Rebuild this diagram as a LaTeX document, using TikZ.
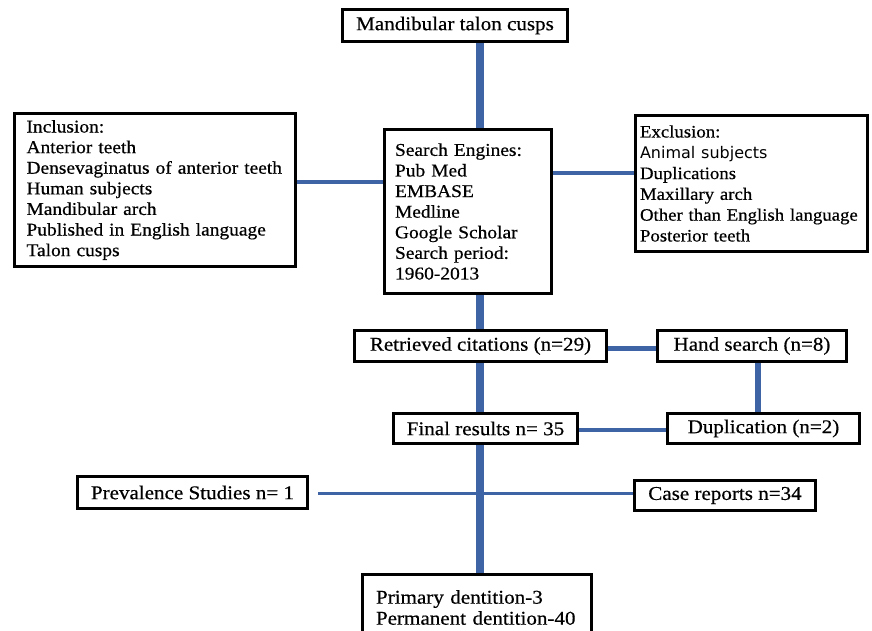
\documentclass[tikz,border=0pt]{standalone}
\usepackage{fontspec}
\setmainfont{Liberation Serif}[FakeStretch=1.08,FakeBold=0.5]
\newfontfamily\sansfnt{DejaVu Sans}
\definecolor{linkblue}{RGB}{62,100,165}
\begin{document}
\begin{tikzpicture}[x=1pt,y=-1pt,
  box/.style={draw=black, line width=3pt, fill=white, inner sep=0pt, font=\fontsize{19.5pt}{21pt}\selectfont},
  mbox/.style={box, align=left, font=\fontsize{18pt}{20.6pt}\selectfont},
  spine/.style={draw=linkblue, line width=8pt},
  conn/.style={draw=linkblue, line width=#1}]
\fill[white] (0,0) rectangle (872,630);
\clip (0,0) rectangle (872,630);

\node[box, minimum width=225pt, minimum height=32pt] (top) at (455,25.5) {Mandibular talon cusps};
\node[mbox, text width=257pt, inner xsep=12pt, minimum height=153pt] (incl) at (155,190)
  {Inclusion:\\Anterior teeth\\Densevaginatus of anterior teeth\\Human subjects\\Mandibular arch\\Published in English language\\Talon cusps};
\node[mbox, text width=146pt, inner xsep=10.5pt, minimum height=164pt] (search) at (468,211.5)
  {Search Engines:\\Pub Med\\EMBASE\\Medline\\Google Scholar\\Search period:\\1960-2013};
\node[mbox, text width=223pt, inner xsep=4.5pt, minimum height=136pt, font=\fontsize{17.4pt}{20.8pt}\selectfont] (excl) at (751.5,183.5)
  {Exclusion:\\{\sansfnt\fontsize{16pt}{20.8pt}\selectfont Animal subjects}\\Duplications\\Maxillary arch\\\mbox{Other than English language}\\Posterior teeth};
\node[box, minimum width=252pt, minimum height=31pt] (retr) at (480.5,346) {Retrieved citations (n=29)};
\node[box, minimum width=189pt, minimum height=31pt] (hand) at (752,346) {Hand search (n=8)};
\node[box, minimum width=184pt, minimum height=30pt] (final) at (485.5,428.5) {Final results n= 35};
\node[box, minimum width=192pt, minimum height=30pt] (dup) at (763.5,428.5) {Duplication (n=2)};
\node[box, minimum width=230pt, minimum height=32pt] (prev) at (192.5,492.5) {Prevalence Studies n= 1};
\node[box, minimum width=181pt, minimum height=30pt] (case) at (725,495.5) {Case reports n=34};
\node[box, align=left, text width=202pt, inner xsep=13.5pt, minimum height=66pt, anchor=north] (prim) at (477,573)
  {Primary dentition-3\\\mbox{Permanent dentition-40}};

\coordinate (spx) at (480,0);
\coordinate (hx) at (758,0);
\coordinate (r1) at (0,182);
\coordinate (r2) at (0,173);
\coordinate (r3) at (0,348);
\coordinate (r4) at (0,430);
\coordinate (r5) at (0,493);
\coordinate (prevend) at ([xshift=9pt]prev.east);

\draw[spine] (top.south -| spx) -- (search.north -| spx);
\draw[spine] (search.south -| spx) -- (retr.north -| spx);
\draw[spine] (retr.south -| spx) -- (final.north -| spx);
\draw[spine] (final.south -| spx) -- (prim.north -| spx);
\draw[conn=4pt] (incl.east |- r1) -- (search.west |- r1);
\draw[conn=4pt] (search.east |- r2) -- (excl.west |- r2);
\draw[conn=5pt] (retr.east |- r3) -- (hand.west |- r3);
\draw[conn=6pt] (hand.south -| hx) -- (dup.north -| hx);
\draw[conn=4pt] (final.east |- r4) -- (dup.west |- r4);
\draw[conn=3pt] (prevend |- r5) -- (case.west |- r5);
\end{tikzpicture}
\end{document}
